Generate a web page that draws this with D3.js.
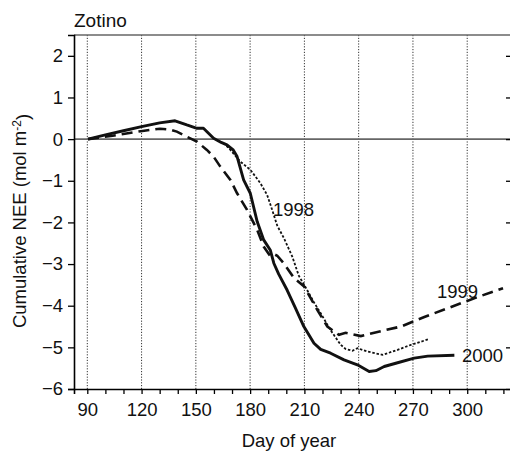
<!DOCTYPE html>
<html>
<head>
<meta charset="utf-8">
<script src="https://cdn.jsdelivr.net/npm/d3@7"></script>
<style>
  body { margin: 0; background: #fff; }
  text { font-family: "Liberation Sans", Arial, sans-serif; fill: #111; }
</style>
</head>
<body>
<script>
// cumulative NEE, Zotino
var days2000 = [90.4, 100, 110, 120, 130, 138.5, 145, 150.6, 154.2, 159.8, 164, 167.2, 170.5, 172.8, 176.4, 180.1, 183.9, 187.5, 191.2, 193.1, 195.8, 200.5, 205, 209.7, 215.3, 219, 224.5, 231.9, 239.3, 245.8, 249.5, 254.1, 261.5, 270.7, 278.2, 292.9];
var nee2000 = [0, 0.1, 0.2, 0.3, 0.39, 0.44, 0.34, 0.26, 0.26, 0.02, -0.08, -0.14, -0.25, -0.42, -0.98, -1.3, -1.98, -2.42, -2.67, -2.98, -3.24, -3.63, -4.05, -4.5, -4.9, -5.05, -5.14, -5.3, -5.42, -5.58, -5.56, -5.46, -5.37, -5.26, -5.21, -5.19];

var days1999 = [90.4, 97, 104, 119.5, 130.2, 135.8, 139.5, 144, 150.6, 156.1, 159.8, 163.5, 169.1, 172.8, 178.3, 183.9, 187.5, 191, 193.1, 195, 198.6, 204.2, 209.7, 217.1, 222.7, 229.1, 232.8, 241.2, 250.4, 263.4, 276.3, 291.1, 305.9, 319.8];
var nee1999 = [0, 0.04, 0.08, 0.19, 0.25, 0.23, 0.18, 0.08, -0.06, -0.26, -0.42, -0.66, -0.98, -1.3, -1.7, -2.18, -2.58, -2.8, -2.76, -2.8, -2.98, -3.33, -3.53, -4.1, -4.5, -4.7, -4.65, -4.73, -4.63, -4.5, -4.27, -4.03, -3.79, -3.58];

var days1998 = [163, 166, 169.1, 174.6, 180.2, 185.7, 189.4, 192.2, 195, 198.6, 203.3, 206.9, 210.7, 215, 219, 224.5, 230.1, 232.8, 236.6, 239.3, 244.9, 253.2, 261.5, 268.9, 279];
var nee1998 = [-0.05, -0.12, -0.26, -0.54, -0.74, -1.06, -1.34, -1.7, -2.08, -2.37, -2.82, -3.28, -3.56, -3.9, -4.18, -4.59, -4.94, -5.04, -5.08, -5.02, -5.1, -5.18, -5.06, -4.94, -4.8];

var xTicks = [90, 120, 150, 180, 210, 240, 270, 300];
var yTicks = [-6, -5, -4, -3, -2, -1, 0, 1, 2];

var svgWidth = 510, svgHeight = 457;
var margin = {top: 35, right: -1, bottom: 68, left: 74};
var width = svgWidth - margin.left - margin.right;
var height = svgHeight - margin.top - margin.bottom;

var svg = d3.select("body").append("svg")
  .attr("width", svgWidth)
  .attr("height", svgHeight);

var g = svg.append("g")
  .attr("transform", "translate(" + margin.left + "," + margin.top + ")");

var x = d3.scaleLinear().domain([82.65, 324.2]).range([0, width]);
var y = d3.scaleLinear().domain([-6, 2.5]).range([height, 0]);

// vertical dotted grid
g.selectAll(".vgrid").data(xTicks).enter().append("line")
  .attr("x1", d => x(d)).attr("x2", d => x(d))
  .attr("y1", 0).attr("y2", height)
  .attr("stroke", "#333").attr("stroke-width", 1)
  .attr("stroke-dasharray", "1.2,1.6");

// top frame + zero line
g.append("line").attr("x1", 0).attr("x2", width).attr("y1", 0).attr("y2", 0)
  .attr("stroke", "#666").attr("stroke-width", 1.6);
g.append("line").attr("x1", 0).attr("x2", width).attr("y1", y(0)).attr("y2", y(0))
  .attr("stroke", "#666").attr("stroke-width", 1.6);

// axes
var xAxis = g.append("g").attr("transform", "translate(0," + height + ")")
  .call(d3.axisBottom(x).tickValues(d3.range(90, 321, 10)).tickSize(5).tickFormat(d => xTicks.includes(d) ? d : ""));
var yAxis = g.append("g")
  .call(d3.axisLeft(y).tickValues(yTicks).tickSize(6).tickFormat(d3.format("d")));
var yRight = g.append("g").attr("transform", "translate(" + width + ",0)")
  .call(d3.axisLeft(y).tickValues(yTicks).tickSize(5).tickFormat(""));

[xAxis, yAxis].forEach(function(a) {
  a.select(".domain").attr("stroke", "#000").attr("stroke-width", 1.6);
  a.selectAll(".tick line").attr("stroke", "#000").attr("stroke-width", 1.3);
  a.selectAll("text").style("font-size", "18.5px").attr("fill", "#111");
});
yRight.select(".domain").remove();
yRight.selectAll(".tick line").attr("stroke", "#000").attr("stroke-width", 1.3);
xAxis.selectAll("text").attr("dy", "1.05em");
yAxis.selectAll("text").attr("x", -11);

var line = d3.line().x(d => x(d[0])).y(d => y(d[1]));
function pairs(a, b) { return a.map((d, i) => [d, b[i]]); }

g.append("path").datum(pairs(days1998, nee1998)).attr("d", line)
  .attr("fill", "none").attr("stroke", "#111").attr("stroke-width", 1.8)
  .attr("stroke-dasharray", "2.5,1.8");
g.append("path").datum(pairs(days1999, nee1999)).attr("d", line)
  .attr("fill", "none").attr("stroke", "#111").attr("stroke-width", 2.6)
  .attr("stroke-dasharray", "11,6");
g.append("path").datum(pairs(days2000, nee2000)).attr("d", line)
  .attr("fill", "none").attr("stroke", "#111").attr("stroke-width", 2.9)
  .attr("stroke-linejoin", "round");

// series labels
svg.append("text").attr("x", 273).attr("y", 216).style("font-size", "18.5px").text("1998");
svg.append("text").attr("x", 437).attr("y", 298).style("font-size", "18.5px").text("1999");
svg.append("text").attr("x", 462).attr("y", 362).style("font-size", "18.5px").text("2000");

// titles
svg.append("text").attr("x", 74).attr("y", 27).style("font-size", "19px").text("Zotino");
svg.append("text").attr("x", 289).attr("y", 447).attr("text-anchor", "middle")
  .style("font-size", "18.5px").text("Day of year");

var yl = svg.append("text")
  .attr("transform", "translate(26," + 221 + ") rotate(-90)")
  .attr("text-anchor", "middle")
  .style("font-size", "18.5px");
yl.append("tspan").text("Cumulative NEE (mol m");
yl.append("tspan").attr("dy", "-0.45em").style("font-size", "12px").text("-2");
yl.append("tspan").attr("dy", "0.45em").text(")");
</script>
</body>
</html>
